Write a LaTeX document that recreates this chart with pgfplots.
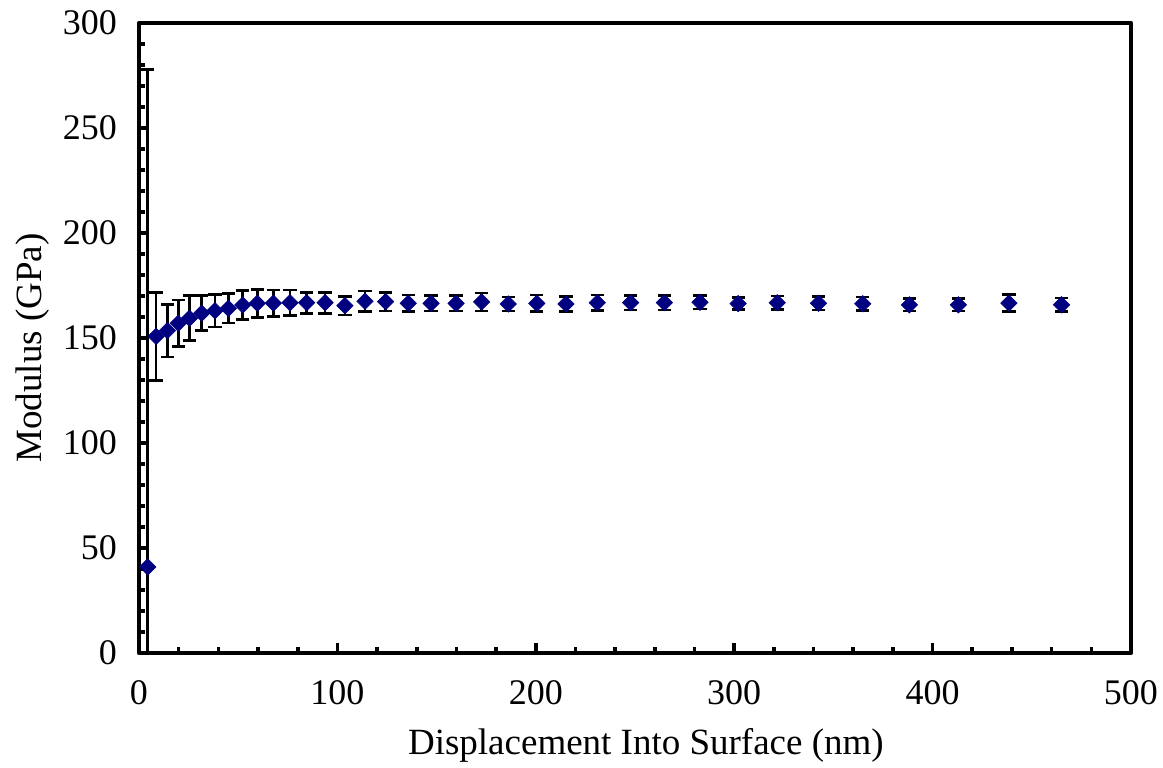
\documentclass[border=0pt]{standalone}
\usepackage{pgfplots}
\pgfplotsset{compat=1.18}
\usepackage{pgfplotstable}
\usepackage{fontspec}
\setmainfont{Liberation Serif}
\definecolor{navyblue}{RGB}{0,0,128}
\pgfplotstableread{
x y e
4.4 41 237
8.6 150.8 21
14.3 153.5 12.5
19.8 157 11
25.4 159.4 10.7
31.6 161.8 8.3
38.3 163 7.7
45.0 164.1 7
52.3 165.7 7
59.6 166.5 6.6
67.7 166.6 6.3
76.1 166.8 6
84.5 166.8 5
93.8 166.8 5
103.8 165.4 4.5
113.9 167.5 4.8
124.3 167.3 4.4
135.7 166.5 4
147.2 166.5 3.7
159.8 166.5 3.7
172.7 167.2 4.3
186.1 166.2 3.4
200.5 166.5 4
215.2 166.2 3.5
231.0 166.8 3.6
247.8 166.8 3.5
264.8 166.8 3.4
282.8 167.0 3.2
302.0 166.4 2.9
321.7 166.8 3.2
342.5 166.5 3.2
364.8 166.3 3.3
388.3 165.8 3
413.0 165.8 3
438.5 166.6 4
465.0 165.8 3.3
}\datatable
\begin{document}
\begin{tikzpicture}
\begin{axis}[
  at={(0,0)}, anchor=south west,
  scale only axis,
  width=496pt, height=315pt,
  xmin=0, xmax=500, ymin=0, ymax=300,
  xtick={0,100,...,500}, ytick={0,50,...,300},
  minor x tick num=4, minor y tick num=4,
  xtick pos=left, ytick pos=left,
  tick align=inside,
  major tick length=5pt, minor tick length=3pt,
  every tick/.style={black, line width=1.8pt},
  axis line style={line width=2.2pt, line join=round},
  /pgf/number format/assume math mode=true,
  tick label style={font=\fontsize{18pt}{21pt}\selectfont},
  xticklabel style={yshift=-10pt},
  yticklabel style={xshift=-7.5pt},
  label style={font=\fontsize{18.5pt}{22pt}\selectfont},
  xlabel={Displacement Into Surface (nm)},
  ylabel={Modulus (GPa)},
  xlabel style={at={(axis description cs:0.511,-0.109)}, anchor=north},
  ylabel style={at={(axis description cs:-0.083,0.484)}, anchor=south, rotate=0},
]
\addplot[only marks, mark=square*, mark size=2.9pt,
  mark options={rotate=45, fill=navyblue, draw=navyblue, line width=0.3pt},
  error bars/.cd, y dir=both, y explicit,
  error bar style={black, line width=1.3pt},
  error mark options={rotate=90, mark size=3.3pt, line width=1.3pt, black}]
  table[x=x, y=y, y error=e] {\datatable};
\end{axis}
\pgfresetboundingbox
\path[use as bounding box] (-69.5pt,-57pt) rectangle (512pt,326.5pt);
\end{tikzpicture}
\end{document}
